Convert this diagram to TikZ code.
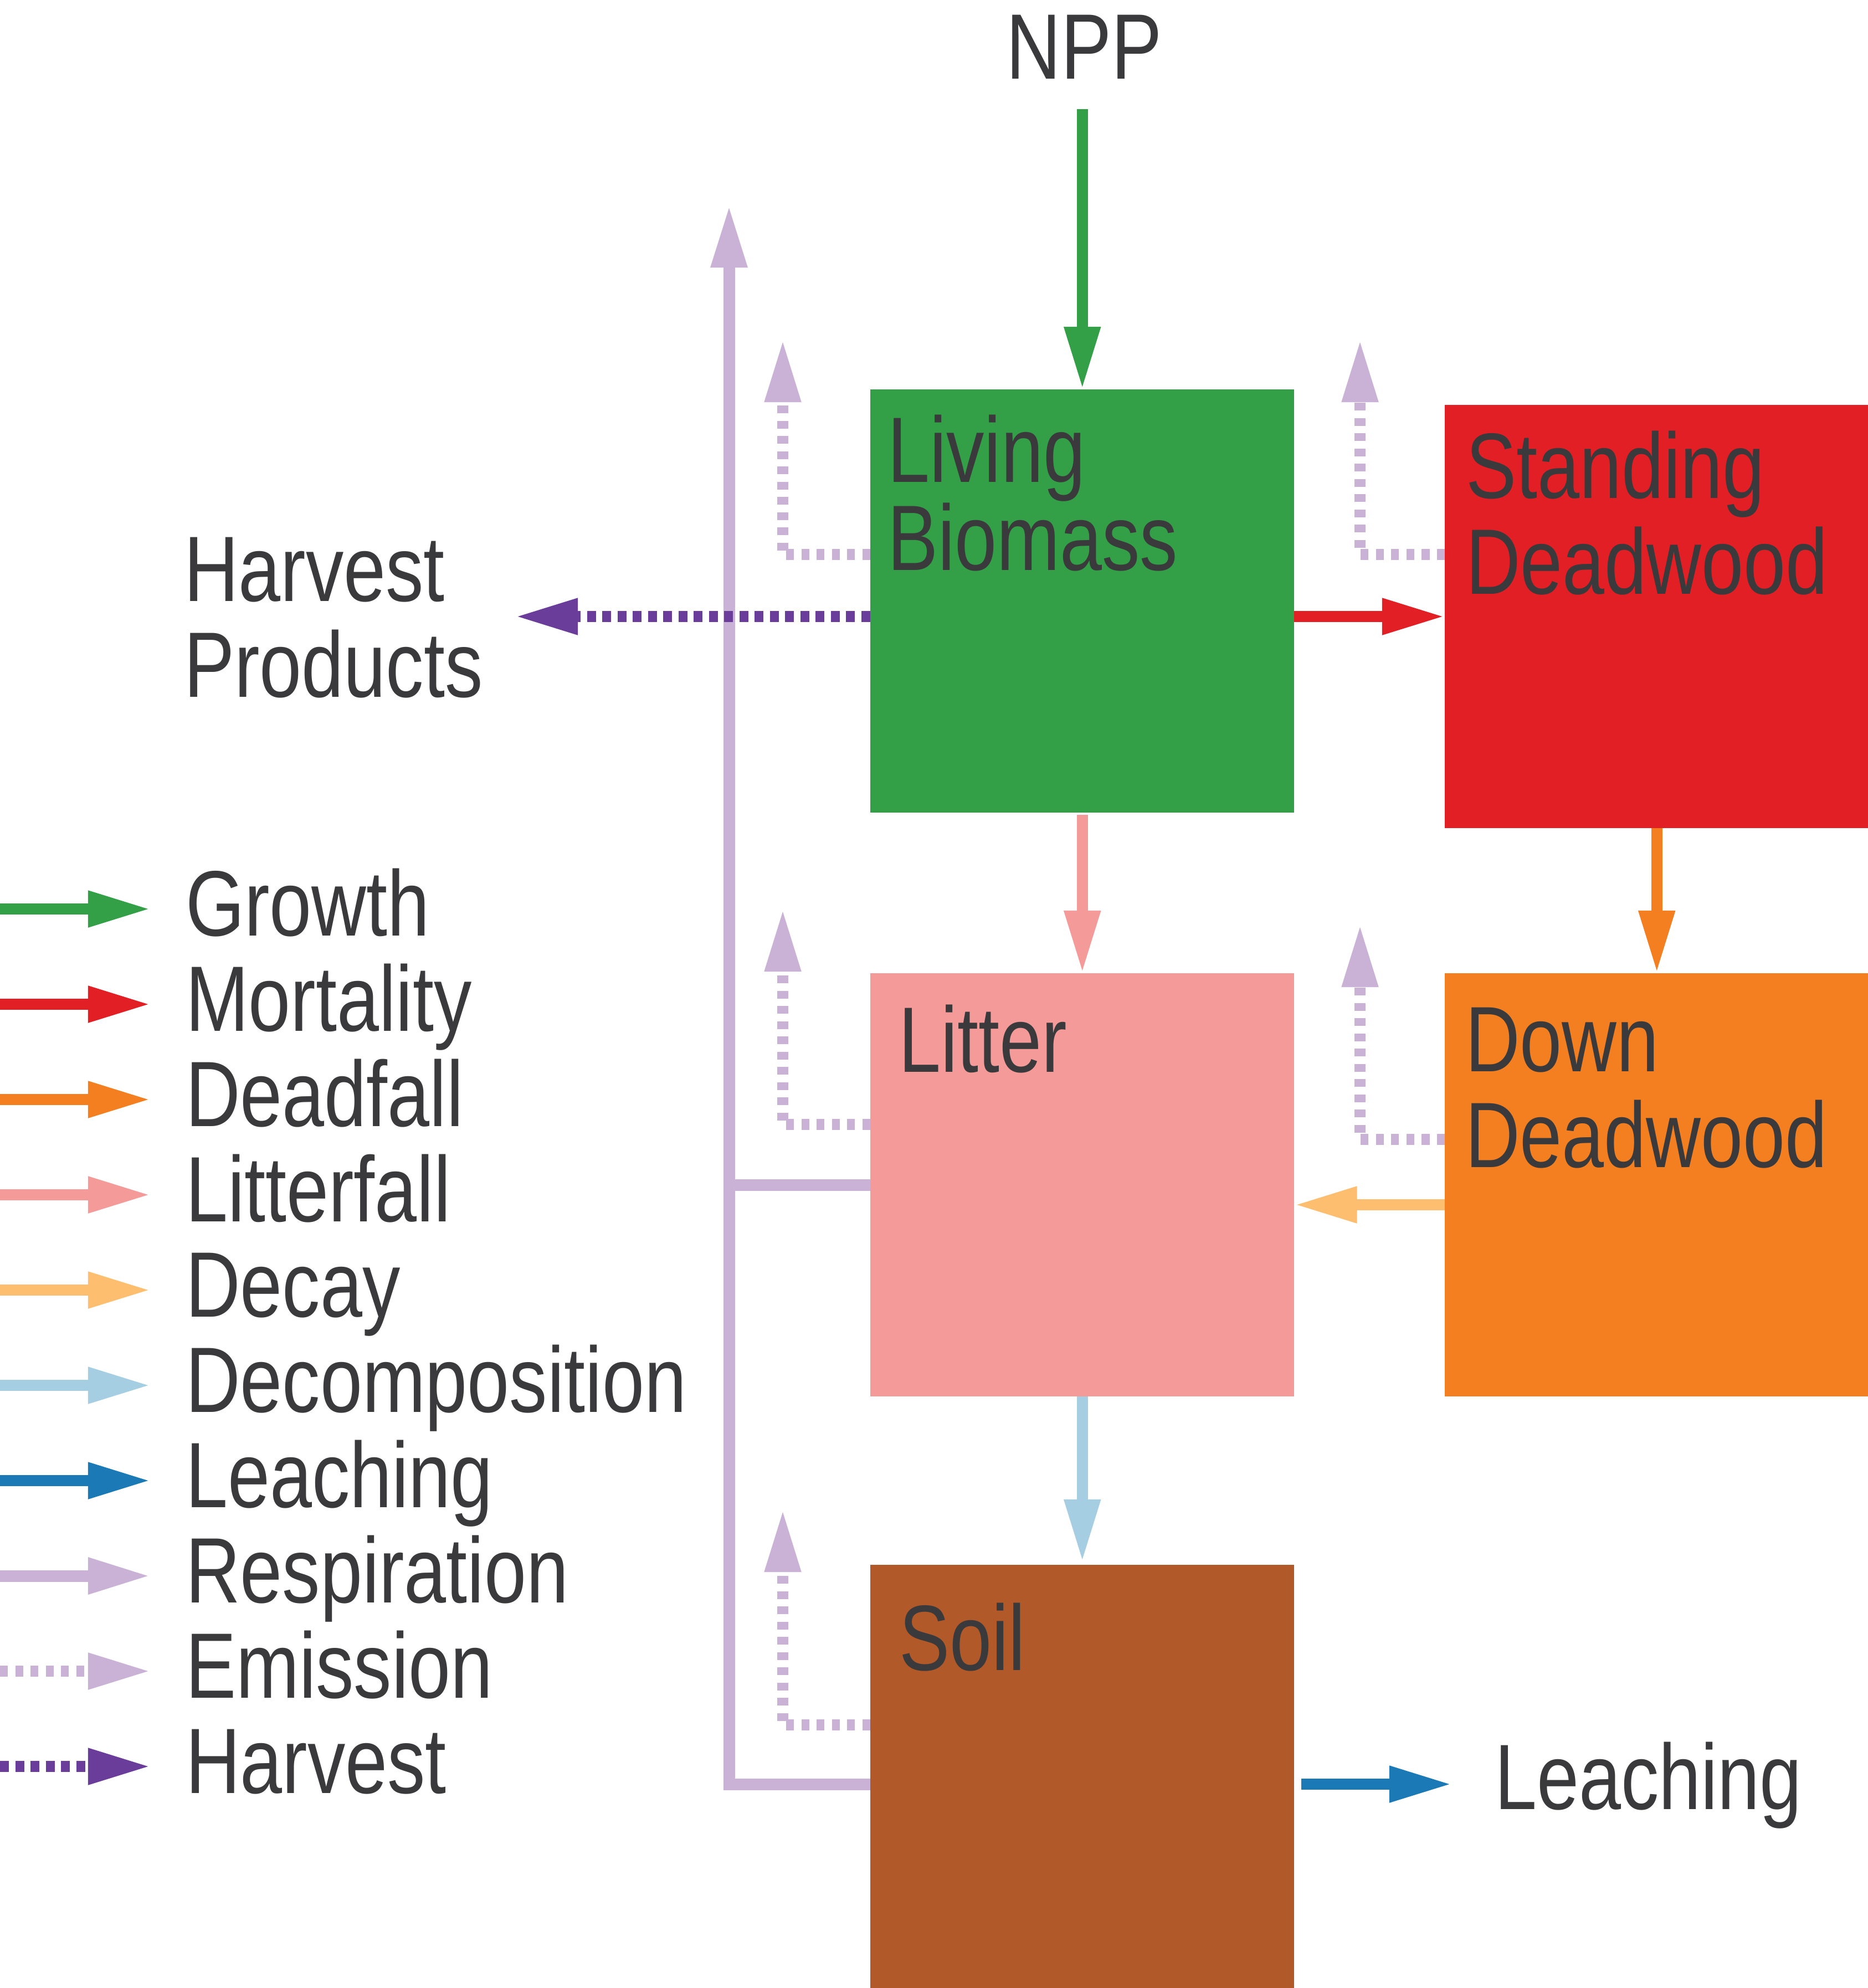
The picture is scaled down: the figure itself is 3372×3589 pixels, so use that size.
\documentclass[tikz,border=0pt]{standalone}
\usepackage{fontspec}
\newfontfamily\diagfont{Liberation Sans}[FakeStretch=0.815]
\usetikzlibrary{arrows.meta,calc,positioning}

\definecolor{cgreen}{HTML}{33A047}
\definecolor{cred}{HTML}{E31F26}
\definecolor{corange}{HTML}{F47F20}
\definecolor{cpink}{HTML}{F49A99}
\definecolor{clorange}{HTML}{FDBF6F}
\definecolor{clblue}{HTML}{A6CEE3}
\definecolor{cblue}{HTML}{1B79B6}
\definecolor{clpurple}{HTML}{CAB2D6}
\definecolor{cpurple}{HTML}{6A3D9A}
\definecolor{cbrown}{HTML}{B15928}
\definecolor{ctext}{HTML}{3A3A3C}

\tikzset{
  pool/.style={rectangle, inner sep=0pt, outer sep=0pt, minimum width=7.65cm,
    minimum height=7.64cm, anchor=north west},
  lbl/.style={font=\diagfont\fontsize{47.7}{49}\selectfont, text=ctext,
    inner sep=0pt, outer sep=0pt, align=left},
  flow/.style={line width=2mm, -{Triangle[length=11.3mm,width=6.1mm]}},
  growth/.style={flow, draw=cgreen},
  mortality/.style={flow, draw=cred},
  deadfall/.style={flow, draw=corange},
  litterfall/.style={flow, draw=cpink},
  decay/.style={flow, draw=clorange},
  decomposition/.style={flow, draw=clblue},
  leaching/.style={flow, draw=cblue},
  respiration/.style={flow, draw=clpurple, line width=2.1mm},
  emission/.style={flow, draw=clpurple, dash pattern=on 1.4mm off 1.35mm},
  harvest/.style={flow, draw=cpurple, dash pattern=on 1.6mm off 1.15mm},
}

\begin{document}
\begin{tikzpicture}[x=0.01cm, y=-0.01cm]
\useasboundingbox (0,0) rectangle (3372,3589);
% Pools
\node[pool, fill=cgreen] (bio) at (1571,703) {};
\node[pool, fill=cred] (std) at (2608,731) {};
\node[pool, fill=cpink] (lit) at (1571,1757) {};
\node[pool, fill=corange] (down) at (2608,1757) {};
\node[pool, fill=cbrown] (soil) at (1571,2825) {};
% Pool names
\node[lbl, anchor=base west, font=\diagfont\fontsize{47.7}{45.2}\selectfont] (biot)
  at ($(bio.north west)+(31,326)$) {Living\\Biomass};
\node[lbl, anchor=base west] (stdt) at ($(std.north west)+(38,341)$) {Standing\\Deadwood};
\node[lbl, anchor=base west] (litt) at ($(lit.north west)+(51,178)$) {Litter};
\node[lbl, anchor=base west] (downt) at ($(down.north west)+(37,350)$) {Down\\Deadwood};
\node[lbl, anchor=base west] (soilt) at ($(soil.north west)+(52,190)$) {Soil};
% Sources and sinks
\node[lbl, anchor=base] (npp) at (1957,142) {NPP};
\node[lbl, anchor=base west] (hp) at (332,1258) {Harvest\\Products};
\node[lbl, anchor=base west] (lch) at (2698,3266) {Leaching};
\coordinate (hvtip) at (930,1113);
\coordinate (lchtip) at (2621,3221);
\coordinate (co2) at (1316,370);
\coordinate (e1) at (1413,613);
\coordinate (e2) at (2455,613);
\coordinate (e3) at (1413,1641);
\coordinate (e4) at (2455,1669);
\coordinate (e5) at (1413,2725);
% Fluxes
\draw[growth] ($(npp.south -| bio.north)+(0,55)$) -- (bio.north);
\draw[mortality] ($(bio.north east)+(0,410)$) coordinate (mo) -- (mo -| std.west);
\draw[litterfall] ($(bio.south)+(0,4)$) -- (lit.north);
\draw[deadfall] (std.south) -- (down.north);
\draw[decay] ($(down.north west)+(0,418)$) coordinate (dc) -- (dc -| lit.east);
\draw[decomposition] (lit.south) -- ($(soil.north)+(0,-5)$);
\draw[leaching] ($(soil.north east)+(13,396)$) -- (lchtip);
% Respiration to atmosphere
\draw[respiration] ($(soil.north west)+(0,396)$) -| (co2);
\draw[respiration, -] ($(lit.north west)+(0,382)$) coordinate (rl) -- (rl -| co2);
% Emissions
\draw[emission] ($(bio.north west)+(0,298)$) -| (e1);
\draw[emission] ($(std.north west)+(0,270)$) -| (e2);
\draw[emission] ($(lit.north west)+(0,273)$) -| (e3);
\draw[emission] ($(down.north west)+(0,300)$) -| (e4);
\draw[emission] ($(soil.north west)+(0,289)$) -| (e5);
% Harvest
\draw[harvest] ($(bio.north west)+(0,410)$) -- (hvtip);
% Legend
\foreach \s/\t [count=\i from 0] in {growth/Growth, mortality/Mortality,
    deadfall/Deadfall, litterfall/Litterfall, decay/Decay,
    decomposition/Decomposition, leaching/Leaching, respiration/Respiration,
    emission/Emission, harvest/Harvest} {
  \draw[\s] (0,{1641+172*\i}) -- (272,{1641+172*\i});
  \node[lbl, anchor=base west] (lg\i) at (335,{1689+172*\i}) {\t};
}
\end{tikzpicture}
\end{document}
